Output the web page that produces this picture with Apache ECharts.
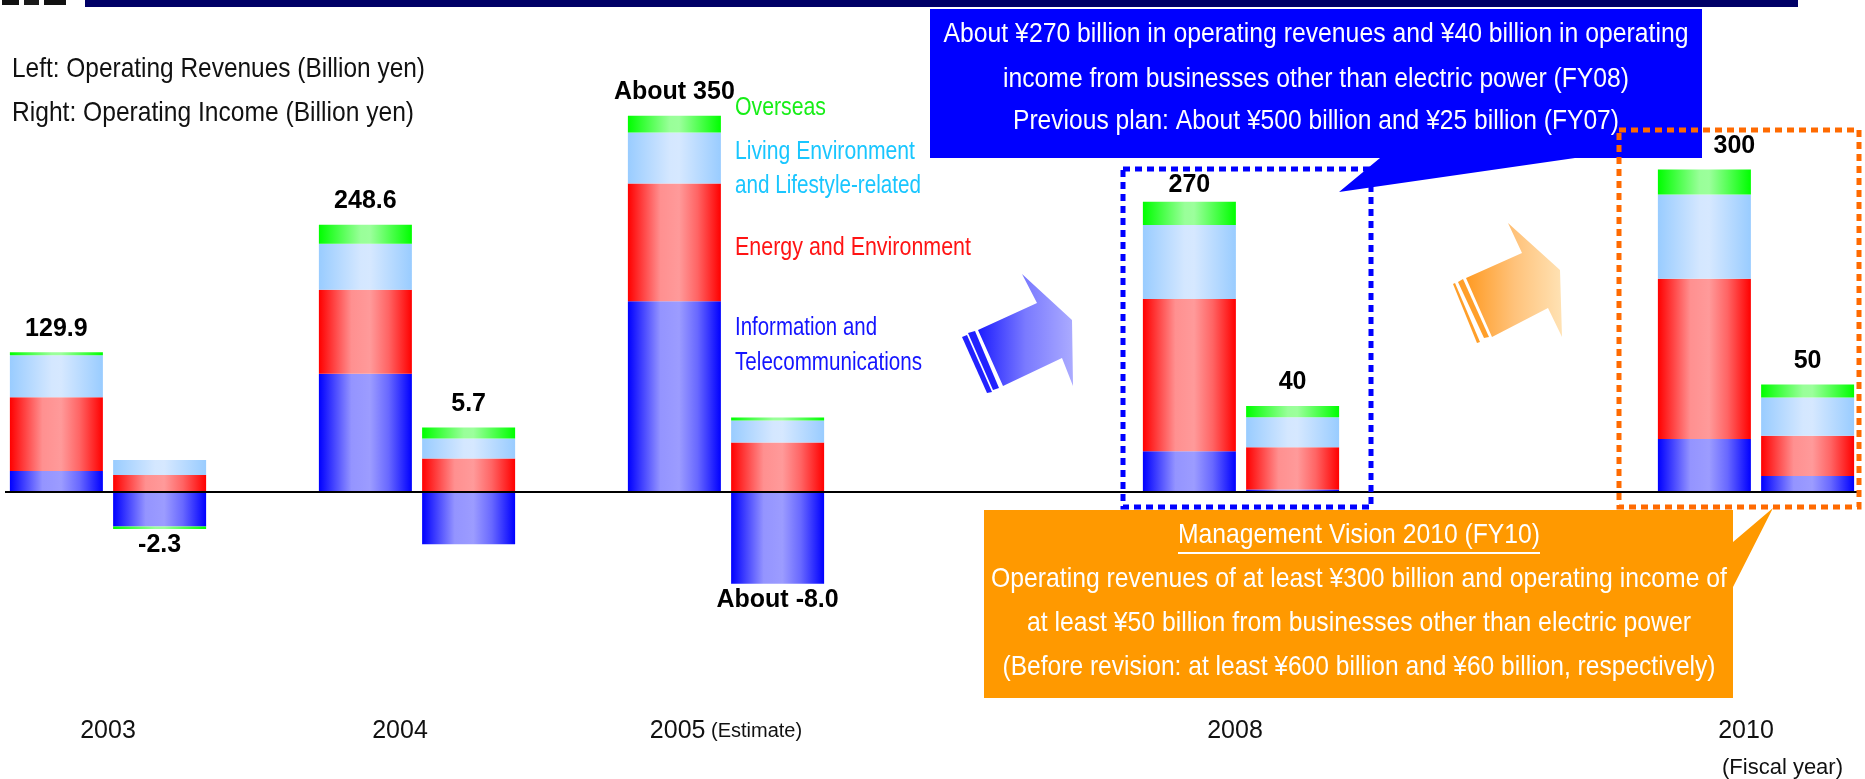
<!DOCTYPE html>
<html>
<head>
<meta charset="utf-8">
<script src="https://cdn.jsdelivr.net/npm/echarts@6/dist/echarts.min.js"></script>
<style>
  html, body { margin: 0; padding: 0; background: #ffffff; }
  #chart { width: 1865px; height: 779px; }
</style>
</head>
<body>
<div id="chart"></div>
<script>
// Fiscal years and where they sit on the slot axis (gaps keep the spacing between years)
const years = ['2003', '2004', '2005', '2008', '2010'];
const yearSlots = [1, 4, 7, 12, 17];
const slotCount = 19;

// Operating revenues by segment (billion yen)
const revInfo     = [19.5, 110.0, 177.5, 37.9, 49.4];
const revEnergy   = [68.6, 78.1, 109.5, 141.6, 149.0];
const revLiving   = [39.0, 42.8, 47.5, 68.9, 78.3];
const revOverseas = [2.8, 17.7, 15.5, 21.6, 23.3];
const revLabels   = ['129.9', '248.6', 'About 350', '270', '300'];

// Operating income by segment (billion yen)
const incInfo     = [-16.0, -24.3, -42.7, 1.2, 7.5];
const incEnergy   = [7.9, 15.6, 23.0, 19.6, 18.7];
const incLiving   = [7.0, 9.3, 10.3, 14.0, 17.7];
const incOverseas = [-1.2, 5.1, 1.4, 5.2, 6.1];
const incLabels   = ['-2.3', '5.7', 'About -8.0', '40', '50'];

const segmentNames = ['Information and Telecommunications', 'Energy and Environment',
  'Living Environment and Lifestyle-related', 'Overseas'];

const FONT = "'Liberation Sans', Arial, sans-serif";

function hGrad(stops) {
  return { type: 'linear', x: 0, y: 0, x2: 1, y2: 0,
    colorStops: stops.map(s => ({ offset: s[0], color: s[1] })) };
}
const segmentFills = [
  hGrad([[0, '#0000ff'], [0.35, '#9494ff'], [0.55, '#9c9cff'], [0.75, '#6868ff'], [1, '#0000ff']]),
  hGrad([[0, '#ff0000'], [0.35, '#ff9090'], [0.55, '#ff9a9a'], [0.75, '#ff6464'], [1, '#ff0000']]),
  hGrad([[0, '#99ccff'], [0.45, '#d4e7ff'], [0.55, '#d6e8ff'], [1, '#99ccff']]),
  hGrad([[0, '#00ff00'], [0.45, '#99ff99'], [0.55, '#9cff9c'], [1, '#00ff00']])
];

const categories = [];
for (let i = 0; i < slotCount; i++) {
  const k = yearSlots.indexOf(i);
  categories.push(k >= 0 ? years[k] : 'gap' + i);
}

// the FY08 total sits inside its frame; the FY10 total moves right to clear the FY08 callout
const revLabelOffsets = { 3: [0, 7], 4: [30, 0] };

// Spread a per-year array over the slot axis; the outermost segment of each stack carries the total label
function slotData(values, seriesIdx, groups, totals, offsets) {
  const out = new Array(slotCount).fill('-');
  values.forEach((v, k) => {
    const seg = groups.map(g => g[k]);
    const total = seg.reduce((a, b) => a + b, 0);
    let outer = -1;
    seg.forEach((s, j) => { if (total >= 0 ? s > 0 : s < 0) outer = j; });
    const item = { value: v };
    if (outer === seriesIdx) {
      item.label = {
        show: true,
        position: total >= 0 ? 'top' : 'bottom',
        distance: total >= 0 ? 11 : 4,
        offset: (offsets && offsets[k]) || [0, 0],
        formatter: totals[k],
        color: '#000',
        fontSize: 25,
        fontWeight: 'bold',
        fontFamily: FONT
      };
    }
    out[yearSlots[k]] = item;
  });
  return out;
}

const revGroups = [revInfo, revEnergy, revLiving, revOverseas];
const incGroups = [incInfo, incEnergy, incLiving, incOverseas];

const series = [];
revGroups.forEach((g, j) => {
  series.push({
    name: segmentNames[j], type: 'bar', stack: 'revenue', yAxisIndex: 0,
    barWidth: 93, barGap: '11%',
    itemStyle: { color: segmentFills[j] },
    emphasis: { disabled: true },
    data: slotData(g, j, revGroups, revLabels, revLabelOffsets)
  });
});
incGroups.forEach((g, j) => {
  series.push({
    name: segmentNames[j], type: 'bar', stack: 'income', yAxisIndex: 1,
    barWidth: 93, barGap: '11%',
    itemStyle: { color: segmentFills[j] },
    emphasis: { disabled: true },
    data: slotData(g, j, incGroups, incLabels, null)
  });
});
// zero line across the plot
series[0].markLine = {
  silent: true, symbol: ['none', 'none'], label: { show: false },
  lineStyle: { color: '#000', width: 2, type: 'solid' },
  emphasis: { disabled: true },
  data: [{ yAxis: 0 }]
};

// small horizontal nudges of the year labels
const labelShift = { '2004': 34, '2008': 12, '2010': 20 };

// narrow lettering: regular face squeezed horizontally to a set width
const measureCtx = document.createElement('canvas').getContext('2d');
function txt(text, x, y, size, color, width, opts) {
  opts = opts || {};
  const weight = opts.weight || 'normal';
  measureCtx.font = weight + ' ' + size + 'px ' + FONT;
  const natural = measureCtx.measureText(text).width;
  const align = opts.align || 'left';
  return {
    type: 'text', silent: true, z: opts.z || 110,
    x: x, y: y, scaleX: width / natural, scaleY: 1,
    style: {
      text: text, x: 0, y: 0, fill: color,
      fontSize: size, fontFamily: FONT, fontWeight: weight,
      align: align, textAlign: align,
      verticalAlign: 'middle', textVerticalAlign: 'middle'
    }
  };
}
function poly(points, fill, z) {
  return { type: 'polygon', silent: true, z: z || 100, shape: { points: points }, style: { fill: fill } };
}

const blueArrowFill = hGrad([[0, '#1c1cff'], [0.5, '#7a7aff'], [1, '#ababff']]);
const orangeArrowFill = hGrad([[0, '#ff9a22'], [0.5, '#ffc27a'], [1, '#ffe2b4']]);

const graphics = [
  // header band and logo edge
  { type: 'rect', silent: true, shape: { x: 85, y: 0, width: 1713, height: 7 }, style: { fill: '#000066' } },
  { type: 'rect', silent: true, shape: { x: 2, y: 0, width: 17, height: 5 }, style: { fill: '#111' } },
  { type: 'rect', silent: true, shape: { x: 24, y: 0, width: 15, height: 5 }, style: { fill: '#1a1a1a' } },
  { type: 'rect', silent: true, shape: { x: 44, y: 0, width: 22, height: 5 }, style: { fill: '#111' } },

  txt('Left: Operating Revenues (Billion yen)', 12, 69, 28, '#111', 413),
  txt('Right: Operating Income (Billion yen)', 12, 113, 28, '#111', 402),

  // segment key
  txt('Overseas', 735, 108, 25, '#17ee17', 91),
  txt('Living Environment', 735, 152, 25, '#19c6ff', 180),
  txt('and Lifestyle-related', 735, 186, 25, '#19c6ff', 186),
  txt('Energy and Environment', 735, 248, 25, '#ff1414', 236),
  txt('Information and', 735, 328, 25, '#1414ff', 142),
  txt('Telecommunications', 735, 363, 25, '#1414ff', 187),

  // blue arrow
  poly([[1003, 386], [978, 330], [1037, 303], [1022, 274], [1072, 320], [1073, 386], [1062, 358]], blueArrowFill),
  poly([[962, 337], [967, 335], [992, 392], [987, 393]], '#2222ff'),
  poly([[968, 333], [975, 331], [999, 388], [993, 390]], '#2222ff'),

  // orange arrow
  poly([[1492, 337], [1466, 278], [1522, 253], [1508, 223], [1560, 270], [1562, 337], [1548, 308]], orangeArrowFill),
  poly([[1453, 284], [1455, 283], [1480, 342], [1477, 343]], '#ff9f2a'),
  poly([[1458, 282], [1463, 279], [1489, 337], [1484, 338]], '#ff9f2a'),

  // FY08 frame
  { type: 'rect', silent: true, z: 100, shape: { x: 1123, y: 169, width: 248, height: 338 },
    style: { fill: 'none', stroke: '#0000ff', lineWidth: 5, lineDash: [7, 5] } },

  // FY08 callout
  poly([[930, 9], [1702, 9], [1702, 158], [1575, 158], [1339, 192], [1380, 158], [930, 158]], '#0000ff', 101),
  txt('About ¥270 billion in operating revenues and ¥40 billion in operating', 1316, 35, 27, '#fff', 745, { align: 'center', z: 111 }),
  txt('income from businesses other than electric power (FY08)', 1316, 80, 27, '#fff', 626, { align: 'center', z: 111 }),
  txt('Previous plan: About ¥500 billion and ¥25 billion (FY07)', 1316, 122, 27, '#fff', 606, { align: 'center', z: 111 }),

  // FY10 frame
  { type: 'rect', silent: true, z: 112, shape: { x: 1619, y: 130, width: 240, height: 377 },
    style: { fill: 'none', stroke: '#ff6a00', lineWidth: 5, lineDash: [7, 5] } },

  // FY10 callout
  poly([[984, 510], [1733, 510], [1733, 542], [1773, 508], [1733, 587], [1733, 698], [984, 698]], '#ff9900', 101),
  txt('Management Vision 2010 (FY10)', 1359, 535, 28, '#fff', 362, { align: 'center', z: 111 }),
  { type: 'rect', silent: true, z: 111, shape: { x: 1178, y: 552, width: 362, height: 2 }, style: { fill: '#fff' } },
  txt('Operating revenues of at least ¥300 billion and operating income of', 1359, 579, 28, '#fff', 736, { align: 'center', z: 111 }),
  txt('at least ¥50 billion from businesses other than electric power', 1359, 623, 28, '#fff', 664, { align: 'center', z: 111 }),
  txt('(Before revision: at least ¥600 billion and ¥60 billion, respectively)', 1359, 667, 28, '#fff', 713, { align: 'center', z: 111 })
];

const chart = echarts.init(document.getElementById('chart'), null, { renderer: 'canvas' });
chart.setOption({
  animation: false,
  backgroundColor: '#ffffff',
  grid: { left: 5, right: 6, top: 62, bottom: 72, containLabel: false },
  xAxis: {
    type: 'category', data: categories, boundaryGap: false,
    axisLine: { show: false, onZero: false }, axisTick: { show: false },
    splitLine: { show: false },
    name: '(Fiscal year)', nameLocation: 'end', nameGap: -16,
    nameTextStyle: { fontSize: 22, fontFamily: FONT, color: '#111', align: 'right', verticalAlign: 'top', padding: [50, 0, 0, 0] },
    axisLabel: {
      interval: 0, margin: 12, color: '#111', fontSize: 25, fontFamily: FONT,
      formatter: v => {
        if (v.startsWith('gap')) return '';
        if (v === '2005') return '2005{e| (Estimate)}';
        if (labelShift[v]) return '{s' + v + '|' + v + '}';
        return v;
      },
      rich: {
        e: { fontSize: 20, fontFamily: FONT, color: '#111' },
        s2004: { fontSize: 25, fontFamily: FONT, color: '#111', padding: [0, labelShift['2004'], 0, 0] },
        s2008: { fontSize: 25, fontFamily: FONT, color: '#111', padding: [0, labelShift['2008'], 0, 0] },
        s2010: { fontSize: 25, fontFamily: FONT, color: '#111', padding: [0, labelShift['2010'], 0, 0] }
      }
    }
  },
  yAxis: [
    { type: 'value', min: -200, max: 400, show: false, splitLine: { show: false } },
    { type: 'value', min: -100, max: 200, show: false, splitLine: { show: false } }
  ],
  tooltip: { show: false },
  series: series,
  graphic: { elements: graphics }
});
</script>
</body>
</html>
